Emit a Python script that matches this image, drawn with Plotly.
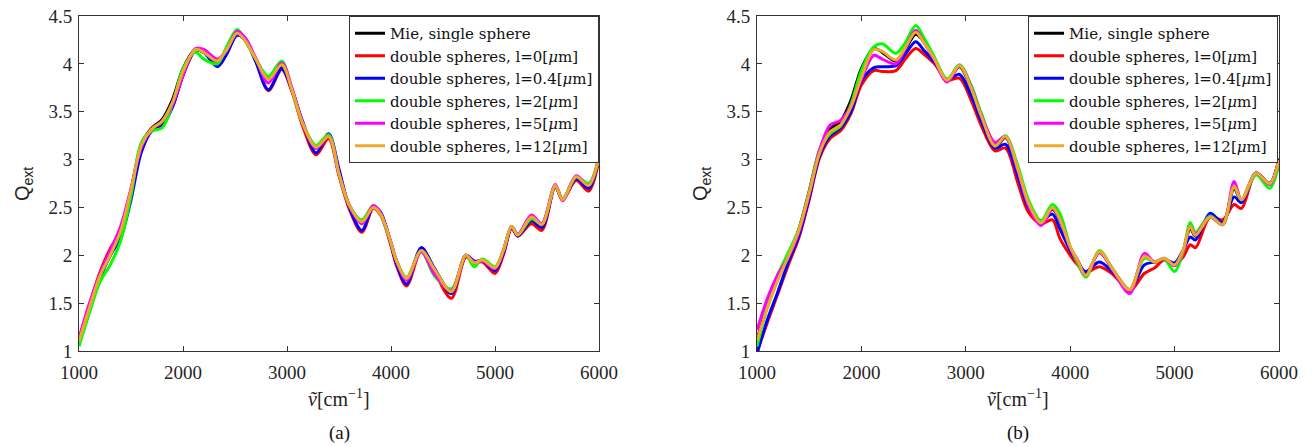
import plotly.graph_objects as go

# ---------------- data ----------------
series_names = [
    "Mie, single sphere",
    "double spheres, l=0[<i>μ</i>m]",
    "double spheres, l=0.4[<i>μ</i>m]",
    "double spheres, l=2[<i>μ</i>m]",
    "double spheres, l=5[<i>μ</i>m]",
    "double spheres, l=12[<i>μ</i>m]",
]
series_colors = ["#000000", "#FF0000", "#0000FF", "#00FF00", "#FF00FF", "#EDAA2A"]

x_ticks = [1000, 2000, 3000, 4000, 5000, 6000]
y_ticks = [1, 1.5, 2, 2.5, 3, 3.5, 4, 4.5]
y_tick_labels = ["1", "1.5", "2", "2.5", "3", "3.5", "4", "4.5"]

# panel (a)
xa = [1000, 1100, 1200, 1300, 1400, 1500, 1600, 1700, 1800, 1900, 2000, 2120, 2200, 2330, 2420, 2520,
      2600, 2700, 2820, 2950, 3050, 3150, 3280, 3400, 3500, 3600, 3720, 3830, 3900, 4000, 4050, 4150,
      4290, 4420, 4580, 4720, 4800, 4880, 5000, 5080, 5160, 5220, 5350, 5450, 5580, 5650, 5780, 5900, 6000]
a_mie = [1.10, 1.45, 1.78, 2.00, 2.25, 2.68, 3.16, 3.33, 3.42, 3.63, 3.95, 4.15, 4.12, 4.03, 4.15, 4.32,
         4.24, 4.05, 3.85, 3.96, 3.72, 3.38, 3.12, 3.24, 2.85, 2.52, 2.35, 2.50, 2.43, 2.13, 1.95, 1.76,
         2.05, 1.85, 1.62, 2.00, 1.92, 1.95, 1.87, 2.05, 2.30, 2.21, 2.40, 2.32, 2.73, 2.58, 2.82, 2.73, 3.03]
a_l0 = [1.13, 1.48, 1.82, 2.07, 2.25, 2.65, 3.12, 3.32, 3.38, 3.56, 3.88, 4.14, 4.13, 4.00, 4.12, 4.30,
        4.25, 4.03, 3.72, 3.94, 3.70, 3.35, 3.05, 3.22, 2.83, 2.48, 2.24, 2.49, 2.42, 2.10, 1.90, 1.68,
        2.04, 1.82, 1.55, 1.98, 1.92, 1.93, 1.81, 2.00, 2.28, 2.20, 2.33, 2.26, 2.72, 2.58, 2.78, 2.67, 3.00]
a_l04 = [1.08, 1.42, 1.75, 2.00, 2.18, 2.58, 3.08, 3.30, 3.35, 3.55, 3.88, 4.14, 4.12, 3.97, 4.10, 4.30,
         4.25, 4.02, 3.73, 3.95, 3.72, 3.40, 3.07, 3.27, 2.90, 2.50, 2.26, 2.51, 2.45, 2.12, 1.92, 1.70,
         2.08, 1.86, 1.60, 2.00, 1.94, 1.94, 1.84, 2.02, 2.29, 2.20, 2.36, 2.29, 2.72, 2.58, 2.80, 2.70, 3.02]
a_l2 = [1.05, 1.40, 1.72, 1.90, 2.15, 2.62, 3.18, 3.30, 3.33, 3.58, 3.95, 4.12, 4.05, 4.00, 4.18, 4.36,
        4.24, 4.05, 3.87, 4.03, 3.72, 3.38, 3.15, 3.26, 2.85, 2.52, 2.37, 2.52, 2.43, 2.13, 1.95, 1.77,
        2.04, 1.78, 1.65, 2.00, 1.88, 1.96, 1.88, 2.05, 2.30, 2.22, 2.38, 2.33, 2.73, 2.58, 2.82, 2.75, 3.03]
a_l5 = [1.13, 1.50, 1.80, 2.05, 2.30, 2.70, 3.13, 3.32, 3.40, 3.58, 3.88, 4.16, 4.15, 4.05, 4.14, 4.34,
        4.27, 4.06, 3.80, 4.01, 3.74, 3.38, 3.12, 3.24, 2.85, 2.52, 2.33, 2.52, 2.44, 2.13, 1.95, 1.74,
        2.04, 1.80, 1.63, 2.00, 1.93, 1.94, 1.86, 2.04, 2.30, 2.22, 2.42, 2.33, 2.74, 2.57, 2.83, 2.73, 3.03]
a_l12 = [1.10, 1.45, 1.78, 2.00, 2.25, 2.68, 3.15, 3.32, 3.40, 3.60, 3.92, 4.15, 4.12, 4.03, 4.15, 4.32,
         4.24, 4.05, 3.84, 3.99, 3.72, 3.38, 3.13, 3.24, 2.85, 2.52, 2.35, 2.50, 2.43, 2.13, 1.95, 1.76,
         2.05, 1.85, 1.62, 2.00, 1.92, 1.95, 1.87, 2.05, 2.30, 2.21, 2.40, 2.32, 2.73, 2.58, 2.82, 2.73, 3.03]

# panel (b)
xb = [1000, 1100, 1200, 1300, 1400, 1500, 1600, 1700, 1800, 1900, 2000, 2120, 2200, 2330, 2420, 2520,
      2600, 2700, 2820, 2940, 3050, 3150, 3280, 3380, 3500, 3600, 3720, 3830, 3900, 4000, 4070, 4150,
      4280, 4410, 4570, 4710, 4810, 4900, 5000, 5080, 5150, 5200, 5340, 5460, 5570, 5640, 5780, 5910, 6000]
b_mie = [1.12, 1.47, 1.77, 2.00, 2.27, 2.67, 3.10, 3.32, 3.40, 3.62, 3.95, 4.16, 4.12, 4.03, 4.15, 4.31,
         4.23, 4.05, 3.83, 3.97, 3.74, 3.44, 3.13, 3.23, 2.88, 2.53, 2.34, 2.48, 2.37, 2.08, 1.95, 1.80,
         2.03, 1.85, 1.64, 1.98, 1.93, 1.96, 1.90, 2.04, 2.28, 2.20, 2.40, 2.32, 2.70, 2.57, 2.86, 2.75, 3.01]
b_l0 = [0.99, 1.30, 1.60, 1.90, 2.18, 2.58, 3.02, 3.22, 3.30, 3.48, 3.78, 3.93, 3.92, 3.93, 4.05, 4.16,
        4.10, 4.00, 3.83, 3.85, 3.62, 3.35, 3.09, 3.12, 2.75, 2.45, 2.33, 2.37, 2.18, 2.00, 1.90, 1.82,
        1.88, 1.80, 1.63, 1.81, 1.87, 1.95, 1.90, 1.98, 2.11, 2.08, 2.40, 2.37, 2.53, 2.49, 2.86, 2.75, 3.00]
b_l04 = [0.97, 1.33, 1.62, 1.93, 2.20, 2.60, 3.04, 3.25, 3.33, 3.50, 3.82, 3.96, 3.97, 3.98, 4.10, 4.23,
         4.14, 4.02, 3.84, 3.89, 3.67, 3.40, 3.12, 3.16, 2.82, 2.50, 2.36, 2.43, 2.28, 2.05, 1.93, 1.83,
         1.93, 1.82, 1.64, 1.90, 1.93, 1.96, 1.92, 2.05, 2.19, 2.16, 2.44, 2.34, 2.61, 2.55, 2.86, 2.75, 3.00]
b_l2 = [1.05, 1.47, 1.80, 2.03, 2.27, 2.66, 3.10, 3.27, 3.35, 3.58, 3.93, 4.18, 4.21, 4.11, 4.22, 4.40,
        4.27, 4.07, 3.84, 3.99, 3.78, 3.48, 3.16, 3.25, 2.93, 2.58, 2.36, 2.53, 2.44, 2.09, 1.92, 1.77,
        2.05, 1.85, 1.64, 1.97, 1.93, 1.96, 1.83, 2.03, 2.34, 2.24, 2.41, 2.32, 2.72, 2.58, 2.84, 2.70, 2.95]
b_l5 = [1.22, 1.55, 1.80, 1.98, 2.24, 2.64, 3.10, 3.36, 3.41, 3.56, 3.84, 4.09, 4.05, 4.00, 4.16, 4.35,
        4.22, 4.04, 3.81, 3.98, 3.76, 3.46, 3.18, 3.24, 2.88, 2.52, 2.31, 2.49, 2.38, 2.08, 1.94, 1.79,
        2.03, 1.84, 1.60, 2.02, 1.93, 1.97, 1.89, 2.04, 2.30, 2.22, 2.40, 2.32, 2.77, 2.58, 2.86, 2.74, 3.00]
b_l12 = [1.11, 1.45, 1.74, 1.99, 2.26, 2.65, 3.07, 3.29, 3.36, 3.55, 3.86, 4.15, 4.13, 4.04, 4.17, 4.33,
         4.22, 4.05, 3.83, 3.98, 3.75, 3.45, 3.14, 3.24, 2.90, 2.55, 2.34, 2.50, 2.38, 2.09, 1.95, 1.79,
         2.04, 1.85, 1.64, 1.99, 1.93, 1.97, 1.90, 2.05, 2.30, 2.21, 2.40, 2.32, 2.72, 2.58, 2.86, 2.75, 3.00]

panel_a = [a_mie, a_l0, a_l04, a_l2, a_l5, a_l12]
panel_b = [b_mie, b_l0, b_l04, b_l2, b_l5, b_l12]

# ---------------- figure ----------------
W, H = 1316, 447
OFF = 8  # page body margin offset
SERIF = "Liberation Serif, Times New Roman, serif"
LEGSERIF = "DejaVu Serif, Liberation Serif, serif"
SANS = "Liberation Sans, Arial, sans-serif"
AXC = "#333333"

def px_x(p):
    return (p - OFF) / W

def px_y(p):
    return (H - (p - OFF)) / H

fig = go.Figure()
for name, color, ys in zip(series_names, series_colors, panel_a):
    fig.add_trace(go.Scatter(x=xa, y=ys, mode="lines", name=name, xaxis="x", yaxis="y",
                             line=dict(color=color, width=3, shape="spline", smoothing=0.9),
                             legend="legend"))
for name, color, ys in zip(series_names, series_colors, panel_b):
    fig.add_trace(go.Scatter(x=xb, y=ys, mode="lines", name=name, xaxis="x2", yaxis="y2",
                             line=dict(color=color, width=3, shape="spline", smoothing=0.9),
                             legend="legend2"))

ybot = px_y(351)
ytop = px_y(16)
xa_dom = [px_x(79), px_x(599)]
xb_dom = [px_x(757), px_x(1279)]

def xax(dom, anchor):
    return dict(domain=dom, anchor=anchor, range=[1000, 6000], tickvals=x_ticks,
                ticktext=[str(v) for v in x_ticks], ticks="inside", ticklen=5, tickcolor=AXC,
                showline=True, linecolor=AXC, linewidth=1, mirror="ticks", showgrid=False,
                zeroline=False, automargin=False, ticklabelstandoff=4, ticklabeloverflow="allow",
                tickfont=dict(family=SERIF, size=19, color="#262626"))

def yax(anchor):
    return dict(domain=[ybot, ytop], anchor=anchor, range=[1, 4.5], tickvals=y_ticks,
                ticktext=y_tick_labels, ticks="inside", ticklen=5, tickcolor=AXC,
                showline=True, linecolor=AXC, linewidth=1, mirror="ticks", showgrid=False,
                zeroline=False, automargin=False, ticklabelstandoff=2, ticklabeloverflow="allow",
                tickfont=dict(family=SERIF, size=19, color="#262626"))

leg_common = dict(yanchor="top", y=ytop, xanchor="right", bgcolor="white", bordercolor=AXC,
                  borderwidth=1, font=dict(family=LEGSERIF, size=15, color="#111111"),
                  tracegroupgap=0, itemwidth=30)

fig.update_layout(
    width=W, height=H, autosize=False,
    margin=dict(l=0, r=0, t=0, b=0, autoexpand=False),
    paper_bgcolor="white", plot_bgcolor="white",
    xaxis=xax(xa_dom, "y"), yaxis=yax("x"),
    xaxis2=xax(xb_dom, "y2"), yaxis2=yax("x2"),
    legend=dict(x=px_x(599), **leg_common),
    legend2=dict(x=px_x(1278), **leg_common),
    showlegend=True,
)

ann = []
for cx, ylab_x, tag in [((79 + 599) / 2, 24, "(a)"), ((757 + 1279) / 2, 702, "(b)")]:
    ann.append(dict(x=px_x(cx), y=px_y(398), xref="paper", yref="paper", showarrow=False,
                    text="<i>ṽ</i>[cm<sup>−1</sup>]", font=dict(family=SERIF, size=20, color="#222222"),
                    xanchor="center", yanchor="middle"))
    ann.append(dict(x=px_x(cx), y=px_y(433), xref="paper", yref="paper", showarrow=False,
                    text=tag, font=dict(family=SERIF, size=19, color="#111111"),
                    xanchor="center", yanchor="middle"))
    ann.append(dict(x=px_x(ylab_x), y=px_y(184), xref="paper", yref="paper", showarrow=False,
                    text="Q<sub>ext</sub>", textangle=-90, font=dict(family=SANS, size=20, color="#222222"),
                    xanchor="center", yanchor="middle"))
fig.update_layout(annotations=ann)

fig.write_html("out.html")
